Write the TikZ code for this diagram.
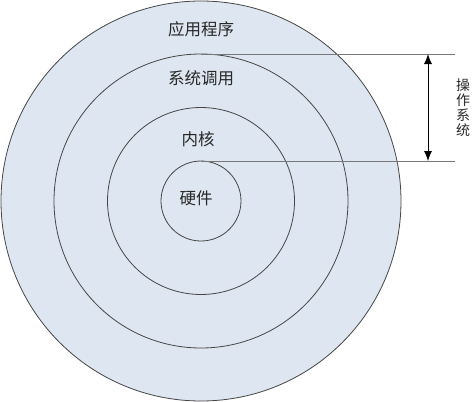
\documentclass[tikz,border=0pt]{standalone}
\usepackage{fontspec}
\newfontfamily\cjk{Noto Sans CJK SC}
\usetikzlibrary{arrows.meta}
\definecolor{ringfill}{RGB}{222,230,241}
\definecolor{ringline}{RGB}{70,70,70}
\definecolor{guideline}{RGB}{120,120,120}
\definecolor{labeltext}{RGB}{40,40,40}
\tikzset{
  ring/.style={draw=ringline, line width=0.8pt, fill=ringfill},
  guide/.style={draw=guideline, line width=0.8pt},
  dimarrow/.style={draw=black, line width=0.8pt, {Latex[length=10pt,width=8pt]}-{Latex[length=10pt,width=8pt]}},
  lbl/.style={font=\cjk\fontsize{16.5}{16.5}\selectfont, text=labeltext, inner sep=0pt},
  vlbl/.style={font=\cjk\fontsize{14}{15}\selectfont, text=labeltext, inner sep=0pt, align=center}
}
\begin{document}
\begin{tikzpicture}[x=1pt,y=-1pt]
\useasboundingbox (0,0) rectangle (475,402);
\coordinate (c) at (201,201);
\draw[ring] (c) circle[radius=200];
\draw[ring] (c) circle[radius=147];
\draw[ring] (c) circle[radius=93.5];
\draw[ring] (c) circle[radius=40];
\coordinate (t1) at (201,54);
\coordinate (t2) at (455,54);
\coordinate (b1) at (201,161);
\coordinate (b2) at (455,161);
\draw[guide] (t1) -- (t2);
\draw[guide] (b1) -- (b2);
\coordinate (at) at (428,54);
\coordinate (ab) at (428,161);
\draw[dimarrow] (at) -- (ab);
\node[lbl] (app) at (201,29) {应用程序};
\node[lbl] (sys) at (201,78) {系统调用};
\node[lbl] (ker) at (198,139) {内核};
\node[lbl] (hw) at (196,198) {硬件};
\node[vlbl] (os) at (463,108) {操\\作\\系\\统};
\end{tikzpicture}
\end{document}
